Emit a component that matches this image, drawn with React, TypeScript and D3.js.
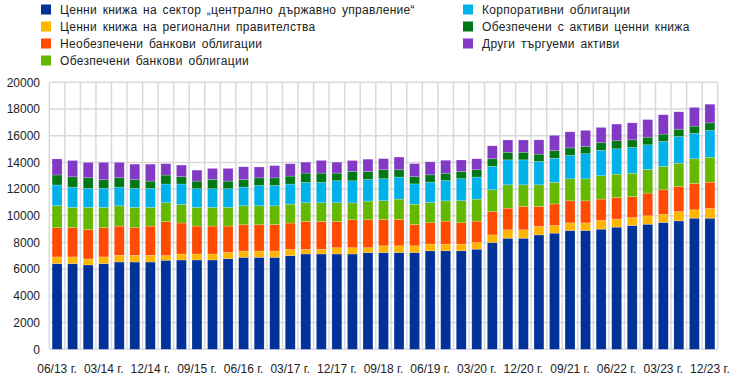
import React from "react";
import * as d3 from "d3";

const quarters = [
  "06/13","09/13","12/13","03/14","06/14","09/14","12/14","03/15","06/15","09/15","12/15",
  "03/16","06/16","09/16","12/16","03/17","06/17","09/17","12/17","03/18","06/18","09/18","12/18",
  "03/19","06/19","09/19","12/19","03/20","06/20","09/20","12/20","03/21","06/21","09/21","12/21",
  "03/22","06/22","09/22","12/22","03/23","06/23","09/23","12/23",
];

const centralGov = [6420,6420,6320,6420,6540,6540,6540,6670,6690,6690,6690,6790,6890,6890,6890,7015,7140,7140,7140,7140,7240,7250,7250,7250,7380,7380,7380,7500,8000,8320,8320,8570,8700,8900,8900,9000,9150,9270,9370,9500,9620,9820,9820];
const regionalGov = [500,500,450,500,500,500,500,350,450,450,450,470,470,470,470,470,350,350,470,470,370,500,500,500,500,500,500,500,570,630,630,630,570,570,570,650,600,600,630,600,700,630,730];
const unsecuredBank = [2190,2190,2190,2190,2190,2070,2190,2540,2320,2090,2090,1970,1970,1970,1990,1970,2090,2090,1970,2090,2090,1980,1980,1600,1600,1720,1600,1600,1750,1620,1750,1500,1620,1650,1650,1600,1620,1570,1700,1850,1870,1970,1970];
const coveredBank = [1650,1520,1670,1520,1520,1520,1400,1420,1400,1400,1400,1400,1420,1420,1400,1420,1400,1400,1400,1270,1400,1400,1520,1520,1520,1520,1650,1650,1630,1750,1620,1620,1620,1650,1650,1750,1750,1750,1770,1750,1750,1850,1870];
const corporate = [1550,1520,1420,1420,1400,1420,1420,1400,1520,1400,1400,1400,1400,1520,1520,1500,1520,1520,1650,1650,1620,1650,1650,1520,1520,1520,1650,1650,1750,1870,1870,1750,1800,1750,1880,1900,1900,1930,1850,1870,2000,1900,2000];
const abs = [750,770,800,650,700,650,550,670,550,570,700,570,570,570,570,600,700,700,570,700,600,670,550,550,550,550,550,550,570,570,570,550,570,570,550,570,600,570,570,550,550,550,570];
const otherMarketable = [1200,1220,1150,1300,1150,1170,1270,850,870,820,820,950,950,820,920,920,820,950,820,820,920,830,950,970,970,970,850,820,970,920,920,1070,1150,1200,1200,1150,1250,1270,1320,1450,1300,1400,1400];

const seriesNames = [
  "Ценни книжа на сектор „централно държавно управление“",
  "Ценни книжа на регионални правителства",
  "Необезпечени банкови облигации",
  "Обезпечени банкови облигации",
  "Корпоративни облигации",
  "Обезпечени с активи ценни книжа",
  "Други търгуеми активи",
];
const seriesColors = ["#003299", "#FFB400", "#FF4B00", "#65B800", "#00B1EA", "#007816", "#8139C6"];
const yTicks = [0, 2000, 4000, 6000, 8000, 10000, 12000, 14000, 16000, 18000, 20000];

const W = 743, H = 378;
const M = { left: 49.3, right: 717.7, top: 82.3, bottom: 349.3 };
const FONT = "'Liberation Sans', Arial, sans-serif";

export default function App() {
  const allSeries = [centralGov, regionalGov, unsecuredBank, coveredBank, corporate, abs, otherMarketable];
  const rows = quarters.map((q, i) => {
    const r: any = { q };
    allSeries.forEach((s, k) => (r["s" + k] = s[i]));
    return r;
  });
  const keys = allSeries.map((_, k) => "s" + k);
  const stacked = d3.stack().keys(keys)(rows);

  const x = d3.scaleBand().domain(quarters).range([M.left, M.right]).paddingInner(0.36).paddingOuter(0.18);
  const xb = d3.scaleBand().domain(quarters).range([M.left, M.right]);
  const y = d3.scaleLinear().domain([0, 20000]).range([M.bottom, M.top]);

  const grid = "#d9d9d9";

  const legendPos = [
    [41, 9.5], [41, 26.5], [41, 43.5], [41, 60.5],
    [463, 9.5], [463, 26.5], [463, 43.5],
  ];

  return (
    <svg width={W} height={H} style={{ display: "block", position: "absolute", left: 0, top: 0 }} fontFamily={FONT}>
      <rect width={W} height={H} fill="#fff" />
      {yTicks.map((t) => (
        <line key={"h" + t} x1={M.left} x2={M.right} y1={y(t)} y2={y(t)} stroke={grid} strokeWidth={1.5} />
      ))}
      {quarters.map((q) => (
        <line key={"v" + q} x1={xb(q)!} x2={xb(q)!} y1={M.top} y2={M.bottom} stroke={grid} strokeWidth={1.5} />
      ))}
      <line x1={M.right} x2={M.right} y1={M.top} y2={M.bottom} stroke={grid} strokeWidth={1.5} />
      {stacked.map((layer, k) => (
        <g key={"l" + k} fill={seriesColors[k]}>
          {layer.map((d, i) => (
            <rect
              key={i}
              x={x(quarters[i])!}
              width={x.bandwidth()}
              y={y(d[1])}
              height={y(d[0]) - y(d[1])}
              stroke="rgba(255,255,255,0.35)"
              strokeWidth={0.6}
            />
          ))}
        </g>
      ))}
      {yTicks.map((t) => (
        <text key={"yl" + t} x={40} y={y(t)} dy="0.35em" textAnchor="end" fontSize={12} fill="#222">
          {String(t)}
        </text>
      ))}
      {quarters.map((q, i) =>
        i % 3 === 0 ? (
          <text key={"xl" + q} x={x(q)! + x.bandwidth() / 2} y={373} textAnchor="middle" fontSize={12} fill="#222">
            {q + " г."}
          </text>
        ) : null
      )}
      {seriesNames.map((n, k) => (
        <g key={"lg" + k}>
          <rect x={legendPos[k][0]} y={legendPos[k][1] - 5} width={10} height={10} fill={seriesColors[k]} />
          <text x={legendPos[k][0] + 19} y={legendPos[k][1]} dy="0.35em" fontSize={12} fill="#222" letterSpacing={0.3} wordSpacing={2}>
            {n}
          </text>
        </g>
      ))}
    </svg>
  );
}
